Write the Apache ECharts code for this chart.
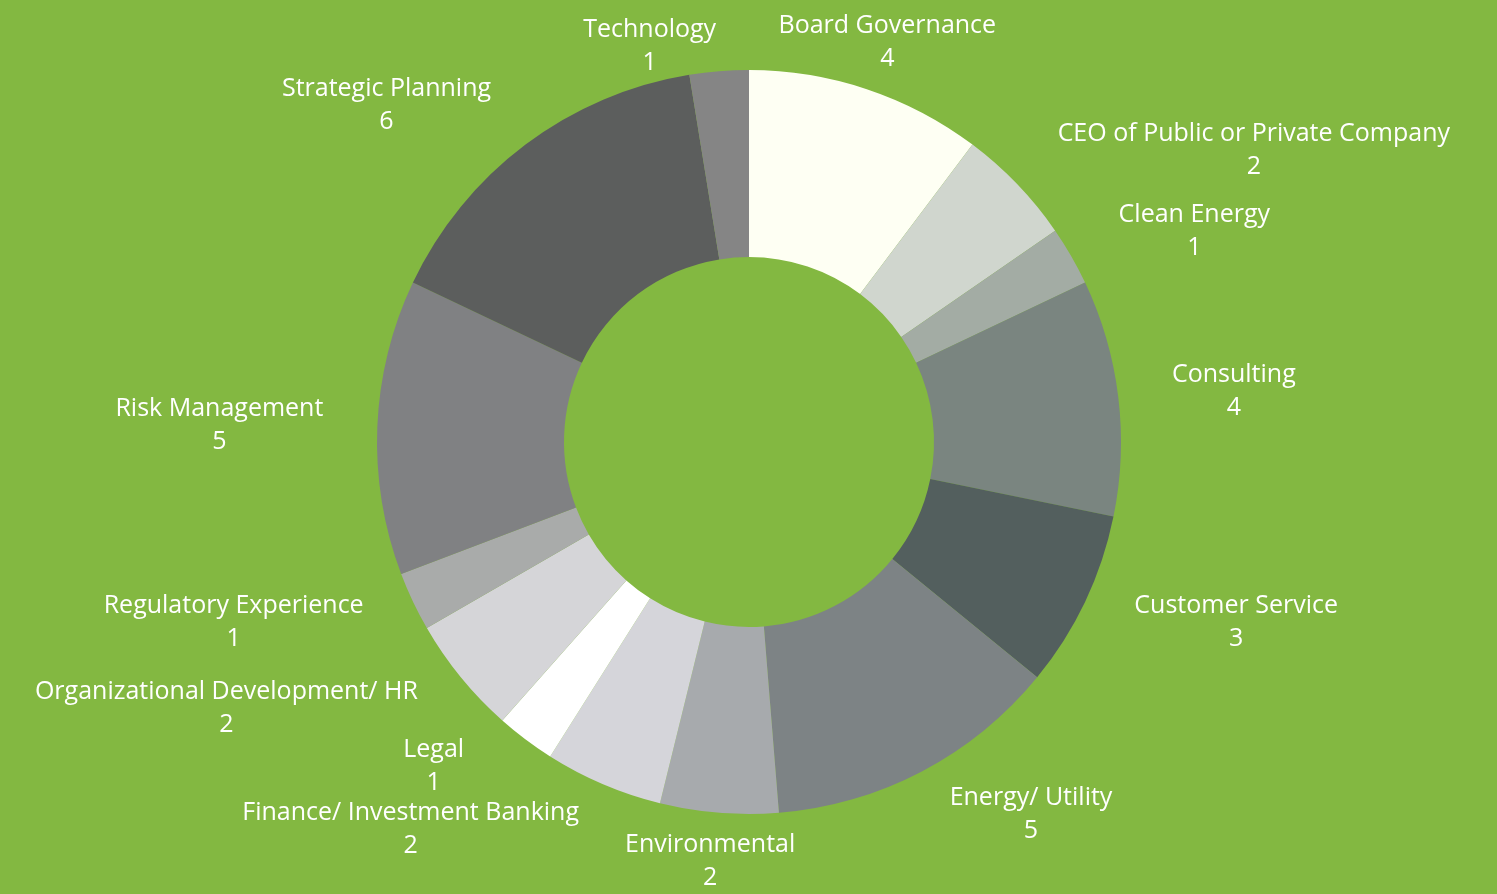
<!DOCTYPE html>
<html>
<head>
<meta charset="utf-8">
<script src="https://cdn.jsdelivr.net/npm/echarts@6/dist/echarts.min.js"></script>
<style>
  html, body { margin: 0; padding: 0; background: #83b841; }
  #chart { width: 1497px; height: 894px; }
</style>
</head>
<body>
<div id="chart"></div>
<script>
const categories = [
  'Board Governance', 'CEO of Public or Private Company', 'Clean Energy', 'Consulting',
  'Customer Service', 'Energy/ Utility', 'Environmental', 'Finance/ Investment Banking',
  'Legal', 'Organizational Development/ HR', 'Regulatory Experience', 'Risk Management',
  'Strategic Planning', 'Technology'
];
const counts = [4, 2, 1, 4, 3, 5, 2, 2, 1, 2, 1, 5, 6, 1];
const sliceColors = [
  '#fefff3', '#d0d6ce', '#a3aca4', '#7a8580', '#535f5e', '#7d8385', '#a7aaad',
  '#d5d5da', '#ffffff', '#d5d5d8', '#a9abaa', '#808183', '#5c5e5d', '#858585'
];
// small nudges for labels the original moved to avoid overlaps
const labelNudge = {
  'Board Governance': { align: 'center' },
  'Technology': { dx: 6, dy: 24 },
  'Environmental': { align: 'center' },
  'Legal': { dx: -27, dy: -12 }
};

const chart = echarts.init(document.getElementById('chart'), null, { width: 1497, height: 894 });
chart.setOption({
  backgroundColor: '#83b841',
  textStyle: { fontFamily: 'Open Sans' },
  series: [
    {
      type: 'pie',
      center: [749, 442],
      radius: [185, 372],
      startAngle: 90,
      clockwise: true,
      avoidLabelOverlap: false,
      data: categories.map((name, i) => ({
        name: name,
        value: counts[i],
        itemStyle: { color: sliceColors[i] },
      })),
      label: {
        show: true,
        position: 'outside',
        distanceToLabelLine: 5,
        formatter: '{n|{b}}\n{v|{c}}',
        rich: {
          n: { color: '#ffffff', fontFamily: 'Open Sans', fontSize: 25, fontWeight: 500, lineHeight: 33, align: 'center' },
          v: { color: '#ffffff', fontFamily: 'Open Sans', fontSize: 25, fontWeight: 500, lineHeight: 33, align: 'center' },
        },
      },
      labelLine: { show: false, length: 49, length2: 0 },
      labelLayout: (params) => {
        const name = categories[params.dataIndex];
        return labelNudge[name] || {};
      },
      emphasis: { disabled: true },
    },
  ],
});
</script>
</body>
</html>
